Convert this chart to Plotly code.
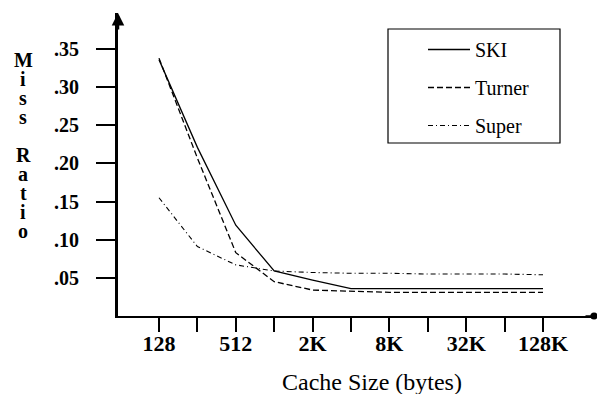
import plotly.graph_objects as go

# ---- data ----
cache_sizes = [128, 256, 512, 1024, 2048, 4096, 8192, 16384, 32768, 65536, 131072]
tick_labels = ["128", "", "512", "", "2K", "", "8K", "", "32K", "", "128K"]
ski    = [0.336, 0.221, 0.119, 0.059, 0.047, 0.036, 0.036, 0.036, 0.036, 0.036, 0.036]
turner = [0.338, 0.207, 0.083, 0.045, 0.034, 0.032, 0.031, 0.031, 0.031, 0.031, 0.031]
super_ = [0.155, 0.091, 0.067, 0.059, 0.057, 0.056, 0.056, 0.055, 0.055, 0.055, 0.054]
y_ticks = [0.05, 0.10, 0.15, 0.20, 0.25, 0.30, 0.35]
y_tick_labels = [".05", ".10", ".15", ".20", ".25", ".30", ".35"]
y_title = "Miss Ratio"
x_title = "Cache Size (bytes)"

FONT = "Times New Roman"
W, H = 597, 394
L, R, T, B = 118, 0, 13, 78
pw, ph = W - L - R, H - T - B

def px_x(p):
    return (p - L) / pw

def px_y(p):
    return (H - B - p) / ph

fig = go.Figure()
fig.add_trace(go.Scatter(x=cache_sizes, y=ski, name="SKI", mode="lines",
                         line=dict(color="black", width=1.3, dash="solid"),
                         legendgroup="a"))
fig.add_trace(go.Scatter(x=cache_sizes, y=turner, name="Turner", mode="lines",
                         line=dict(color="black", width=1.3, dash="6px,3px"),
                         legendgroup="b"))
fig.add_trace(go.Scatter(x=cache_sizes, y=super_, name="Super", mode="lines",
                         line=dict(color="black", width=1.1, dash="5px,3px,1px,3px"),
                         legendgroup="c"))

fig.update_layout(
    width=W, height=H,
    margin=dict(l=L, r=R, t=T, b=B, pad=0),
    paper_bgcolor="white", plot_bgcolor="white",
    font=dict(family=FONT, color="black"),
    showlegend=True,
    legend=dict(x=px_x(423), y=px_y(30), xanchor="left", yanchor="top",
                bgcolor="rgba(0,0,0,0)", borderwidth=0,
                font=dict(family=FONT, size=20, color="black"),
                tracegroupgap=9, itemwidth=42),
    xaxis=dict(type="log", range=[1.7858, 5.5408],
               tickmode="array", tickvals=cache_sizes, ticktext=tick_labels,
               ticks="outside", ticklen=14, tickwidth=1.5, tickcolor="black",
               tickfont=dict(family=FONT, size=22, color="black", weight="bold"),
               ticklabelstandoff=-7,
               showline=True, linewidth=2, linecolor="black",
               showgrid=False, zeroline=False),
    yaxis=dict(range=[0, (H - B - T) / 763.0],
               tickmode="array", tickvals=y_ticks, ticktext=y_tick_labels,
               ticks="outside", ticklen=19, tickwidth=1.5, tickcolor="black",
               tickfont=dict(family=FONT, size=20, color="black", weight="bold"),
               ticklabelstandoff=13,
               showline=True, linewidth=3, linecolor="black",
               showgrid=False, zeroline=False),
)

# legend frame
fig.add_shape(type="rect", xref="paper", yref="paper",
              x0=px_x(388), x1=px_x(560), y0=px_y(143), y1=px_y(29),
              line=dict(color="black", width=1.2), fillcolor="rgba(0,0,0,0)")

# y-axis arrow at the top
fig.add_annotation(xref="paper", yref="paper", x=0, y=1.0, ax=0, ay=18,
                   showarrow=True, arrowhead=2, arrowsize=1, arrowwidth=2.5,
                   arrowcolor="black", text="")
# x-axis end dot
fig.add_annotation(xref="paper", yref="paper", x=px_x(594), y=0, ax=-10, ay=0,
                   showarrow=True, arrowhead=6, arrowsize=1.2, arrowwidth=1.5,
                   arrowcolor="black", text="")

# stacked vertical y-axis title
for i, ch in enumerate(y_title):
    if ch == " ":
        continue
    fig.add_annotation(xref="paper", yref="paper", x=px_x(23), y=px_y(60 + 19 * i),
                       text=ch, showarrow=False, xanchor="center", yanchor="middle",
                       font=dict(family=FONT, size=20, color="black", weight="bold"))

# x-axis title
fig.add_annotation(xref="paper", yref="paper", x=px_x(372), y=px_y(382),
                   text=x_title, showarrow=False, xanchor="center", yanchor="middle",
                   font=dict(family=FONT, size=24, color="black"))

fig.write_html("out.html",
               config={"displayModeBar": False},
               post_script="document.body.style.margin='0';document.body.style.padding='0';")
